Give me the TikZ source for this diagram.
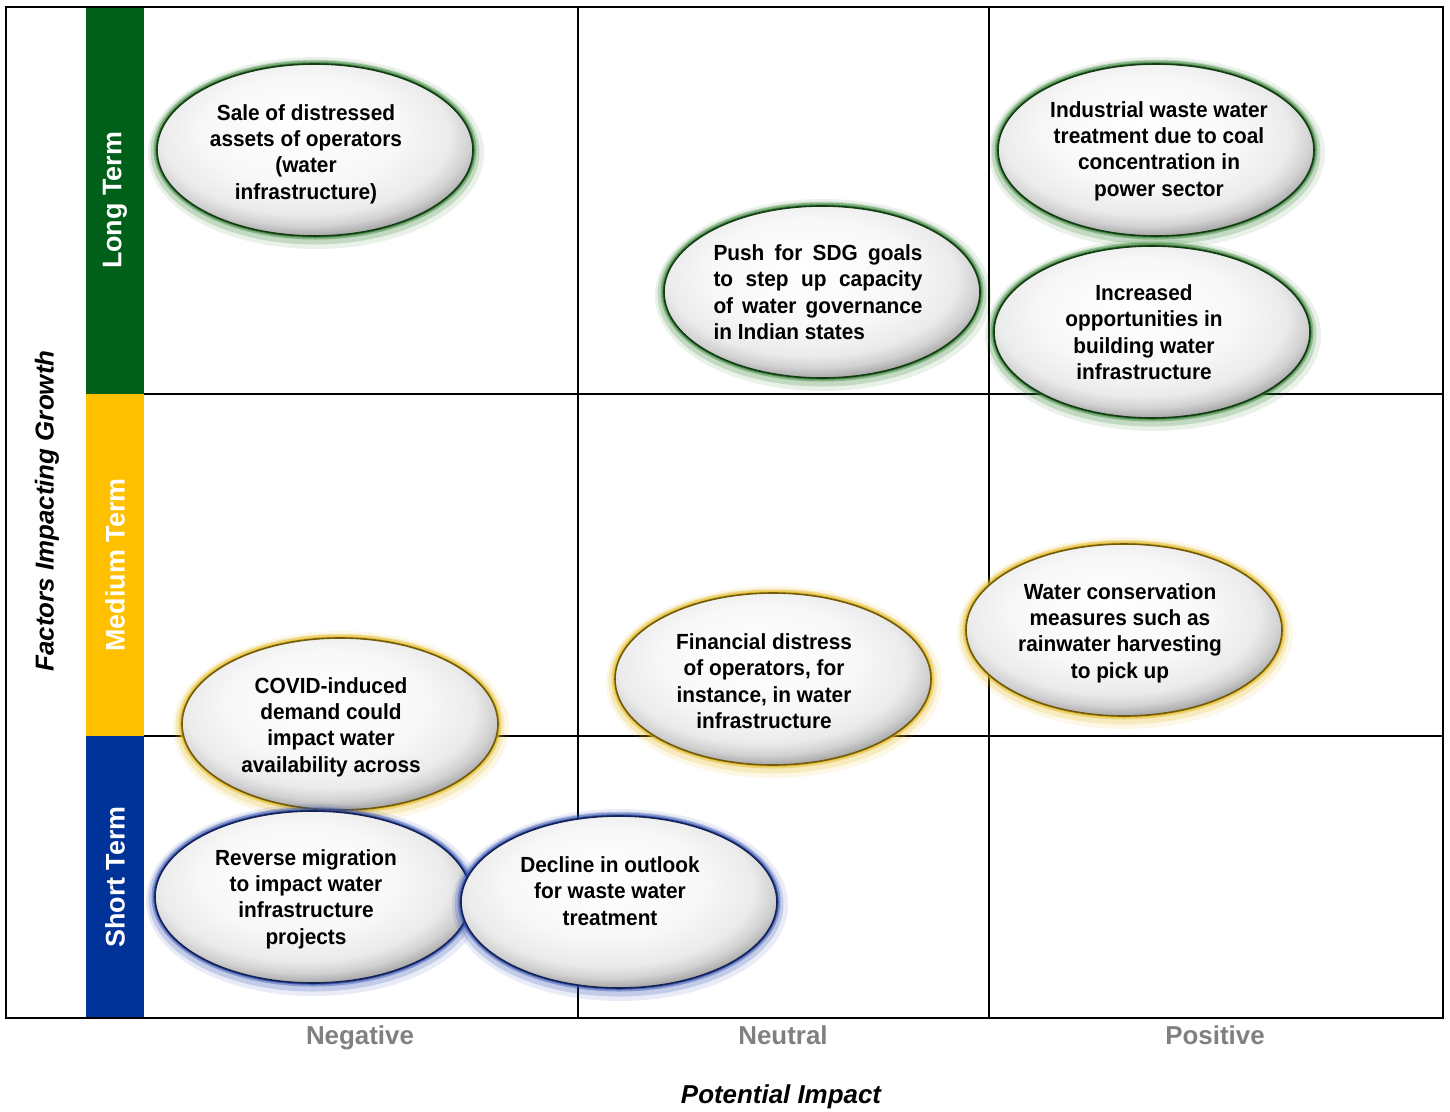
\documentclass[tikz,border=0pt]{standalone}
\usepackage{fontspec}
\setmainfont{Liberation Sans}
\newfontfamily\bubblefont{Liberation Sans}[FakeStretch=0.95]
\usetikzlibrary{positioning,shapes.geometric}
\definecolor{longgreen}{RGB}{0,96,25}
\definecolor{medyellow}{RGB}{255,192,0}
\definecolor{shortblue}{RGB}{0,51,153}
\definecolor{glowgreen}{RGB}{40,120,40}
\definecolor{glowyellow}{RGB}{225,180,20}
\definecolor{glowblue}{RGB}{40,70,170}
\pgfdeclareradialshading{bubbleshade}{\pgfpoint{-3bp}{8bp}}{color(0bp)=(white); color(16bp)=(black!3); color(23bp)=(black!8); color(26bp)=(black!18); color(29bp)=(black!38); color(50bp)=(black!38)}
\tikzset{
bubble/.style={
ellipse,
draw=#1!50!black,
line width=1.6bp,
minimum width=316bp,
minimum height=172bp,
shading=bubbleshade,
preaction={draw=#1,line width=20bp,opacity=.1,transform canvas={xshift=1bp,yshift=-3bp}},
preaction={draw=#1,line width=13bp,opacity=.2,transform canvas={yshift=-2bp}},
preaction={draw=#1,line width=7bp,opacity=.4},
preaction={draw=#1,line width=3.5bp,opacity=.7}
},
bubtext/.style={
align=center,
text=black,
inner sep=0pt,
font=\bubblefont\bfseries\fontsize{22}{26.5}\selectfont
},
termbar/.style={
rotate=90,
minimum height=58bp,
inner sep=0pt,
text=white,
font=\bfseries\fontsize{27}{32}\selectfont
},
impact/.style={
anchor=base,
text=black!50,
font=\bfseries\fontsize{26}{30}\selectfont
},
axistitle/.style={
font=\bfseries\itshape\fontsize{26}{30}\selectfont
},
gridline/.style={
line width=1.5bp
}
}

\begin{document}
\begin{tikzpicture}[x=1bp,y=-1bp]
\useasboundingbox (0,0) rectangle (1450,1111);

% time bars
\node[termbar,fill=longgreen,minimum width=387bp](longbar) at (115,200.5){Long Term};
\node[termbar,fill=medyellow,minimum width=342bp](medbar) at (115,565){Medium Term};
\node[termbar,fill=shortblue,minimum width=282bp](shortbar) at (115,877){Short Term};

% grid
\draw[gridline] (6,7) rectangle (1443,1018);
\draw[gridline] (144,394) -- (1443,394);
\draw[gridline] (144,736) -- (1443,736);
\draw[gridline] (578,7) -- (578,1018);
\draw[gridline] (989,7) -- (989,1018);

% long term
\node[bubble=glowgreen,label={[bubtext,xshift=-9bp,yshift=-4bp]center:{Sale of distressed\\assets of operators\\(water\\infrastructure)}}](sale) at (315,150){};
\node[bubble=glowgreen,label={[bubtext,xshift=3bp,yshift=-1bp]center:{Industrial waste water\\treatment due to coal\\concentration in\\power sector}}](industrial) at (1156,150){};
\node[bubble=glowgreen,label={[bubtext,xshift=-8bp]center:{Increased\\opportunities in\\building water\\infrastructure}}](increased) at (1152,332){};
\node[bubble=glowgreen,label={[bubtext,align=left,xshift=-4bp]center:{\makebox[209bp][s]{Push for SDG goals}\\\makebox[209bp][s]{to step up capacity}\\\makebox[209bp][s]{of water governance}\\in Indian states}}](sdg) at (822,292){};

% medium term
\node[bubble=glowyellow,label={[bubtext,xshift=-4bp,yshift=-3bp]center:{Water conservation\\measures such as\\rainwater harvesting\\to pick up}}](conservation) at (1124,630){};
\node[bubble=glowyellow,label={[bubtext,xshift=-9bp,yshift=-2bp]center:{Financial distress\\of operators, for\\instance, in water\\infrastructure}}](distress) at (773,679){};
\node[bubble=glowyellow,label={[bubtext,xshift=-9bp,yshift=-3bp]center:{COVID-induced\\demand could\\impact water\\availability across}}](covid) at (340,724){};

% short term
\node[bubble=glowblue,label={[bubtext,xshift=-7bp,yshift=-2bp]center:{Reverse migration\\to impact water\\infrastructure\\projects}}](migration) at (313,897){};
\node[bubble=glowblue,label={[bubtext,xshift=-9bp,yshift=11bp]center:{Decline in outlook\\for waste water\\treatment}}](decline) at (619,902){};

% axes
\node[impact](negative) at (360,1044){Negative};
\node[impact](neutral) at (783,1044){Neutral};
\node[impact](positive) at (1215,1044){Positive};
\node[axistitle](potential) at (781,1097){Potential Impact};
\node[axistitle,rotate=90](factors) at (47,511){Factors Impacting Growth};
\end{tikzpicture}
\end{document}
